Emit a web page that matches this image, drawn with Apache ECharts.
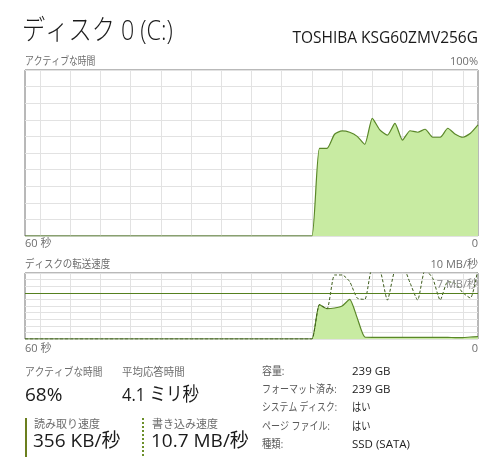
<!DOCTYPE html>
<html>
<head>
<meta charset="utf-8">
<script src="https://cdn.jsdelivr.net/npm/echarts@6/dist/echarts.min.js"></script>
<style>
html,body{margin:0;padding:0;background:#fff;}
#c{width:500px;height:475px;}
</style>
</head>
<body>
<div id="c"></div>
<script>
// ---- data ----
const seconds = [60,59,58,57,56,55,54,53,52,51,50,49,48,47,46,45,44,43,42,41,40,39,38,37,36,35,34,33,32,31,30,29,28,27,26,25,24,23,22,21,20,19,18,17,16,15,14,13,12,11,10,9,8,7,6,5,4,3,2,1,0];
const activeTime = [0,0,0,0,0,0,0,0,0,0, 0,0,0,0,0,0,0,0,0,0, 0,0,0,0,0,0,0,0,0,0, 0,0,0,0,0,0,0,0,0,
  52.8,52.8,61.3,63.3,62.5,60,55.2,70.9,63.9,60.8,67.9,57.8,63.4,62.5,64.3,59.5,59.5,64.9,61.3,59.5,61.9,66.9];
const readSpeed = [0,0,0,0,0,0,0,0,0,0, 0,0,0,0,0,0,0,0,0,0, 0,0,0,0,0,0,0,0,0,0, 0,0,0,0,0,0,0,0,0,
  5.2,4.6,4.7,5.0,6.0,3.2,0.3,0.25,0.25,0.25,0.25,0.25,0.25,0.25,0.25,0.25,0.25,0.25,0.2,0.2,0.3,0.35];
const writeSpeed = [0,0,0,0,0,0,0,0,0,0, 0,0,0,0,0,0,0,0,0,0, 0,0,0,0,0,0,0,0,0,0, 0,0,0,0,0,0,0,0,0,
  5.2,4.6,9.7,9.7,8.7,6.2,6.0,10.8,10.5,5.9,10.5,11,8.5,5.9,10.5,9.2,5.9,8.7,8.4,7.0,6.2,10.7];
const scaleLine = 7;
const activeMax = 100;
const transferMax = 10;

const titleText = 'ディスク 0 (C:)';
const modelText = 'TOSHIBA KSG60ZMV256G';
const chart1Label = 'アクティブな時間', chart1Max = '100%';
const chart2Label = 'ディスクの転送速度', chart2Max = '10 MB/秒';
const axisLeft = '60 秒', axisRight = '0';
const scaleLabel = '7 MB/秒';
const statLabels = ['アクティブな時間', '平均応答時間'];
const statValues = ['68%', '4.1 ミリ秒'];
const rwLabels = ['読み取り速度', '書き込み速度'];
const rwValues = ['356 KB/秒', '10.7 MB/秒'];
const infoLabels = ['容量:', 'フォーマット済み:', 'システム ディスク:', 'ページ ファイル:', '種類:'];
const infoValues = ['239 GB', '239 GB', 'はい', 'はい', 'SSD (SATA)'];

// ---- style ----
const FONT = "'Segoe UI','Open Sans','Noto Sans CJK JP',sans-serif";
const LINE = '#5a8728';
const FILL = '#c8eba2';
const GRID = '#e2e2e2';
const BORDER = '#737373';
const GREY = '#6e6e6e';

function txt(x, y, s, size, color, align, weight, sx) {
  return { type: 'text', x: x, y: y, scaleX: sx || 1, silent: true,
    style: { text: s, font: (weight || 'normal') + ' ' + size + 'px ' + FONT, fill: color,
      textAlign: align || 'left', align: align || 'left', textVerticalAlign: 'middle', verticalAlign: 'middle' } };
}

const graphics = [
  txt(22, 32, titleText, 28, '#1a1a1a', 'left', '300', 0.83),
  txt(478, 39, modelText, 15.5, '#1a1a1a', 'right'),
  txt(25, 62, chart1Label, 11, GREY, 'left', 'normal', 0.8),
  txt(478, 62, chart1Max, 11, GREY, 'right'),
  txt(25, 244, axisLeft, 11, GREY),
  txt(478, 244, axisRight, 11, GREY, 'right'),
  txt(25, 265, chart2Label, 11, GREY, 'left', 'normal', 0.86),
  txt(478, 265, chart2Max, 11, GREY, 'right'),
  txt(25, 349, axisLeft, 11, GREY),
  txt(478, 349, axisRight, 11, GREY, 'right'),
  txt(25, 373, statLabels[0], 11, GREY, 'left', 'normal', 0.88),
  txt(122, 373, statLabels[1], 11, GREY, 'left', 'normal', 0.95),
  txt(25, 396, statValues[0], 19, '#1a1a1a'),
  txt(122, 396, statValues[1], 19, '#1a1a1a', 'left', 'normal', 0.87),
  { type: 'line', silent: true, shape: { x1: 26, y1: 418, x2: 26, y2: 457 }, style: { stroke: '#6b7f1e', lineWidth: 2 } },
  { type: 'line', silent: true, shape: { x1: 143, y1: 418, x2: 143, y2: 457 }, style: { stroke: '#6b8f2a', lineWidth: 2, lineDash: [2, 2] } },
  txt(34, 425, rwLabels[0], 11, GREY),
  txt(152, 425, rwLabels[1], 11, GREY),
  txt(33, 442, rwValues[0], 19, '#1a1a1a'),
  txt(151, 442, rwValues[1], 19, '#1a1a1a')
];
const rowY = [372, 390, 408, 427, 445];
const infoLabelScale = [0.9, 0.82, 0.8, 0.82, 0.85];
const infoValueScale = [1, 1, 0.8, 0.8, 1];
infoLabels.forEach((l, i) => {
  graphics.push(txt(262, rowY[i], l, 11, '#5a5a5a', 'left', 'normal', infoLabelScale[i]));
  graphics.push(txt(352, rowY[i], infoValues[i], 11.5, '#222', 'left', 'normal', infoValueScale[i]));
});

const xAxisBase = (gi) => ({
  type: 'category', gridIndex: gi, data: seconds, boundaryGap: false,
  axisLabel: { show: false }, axisTick: { show: false }, axisLine: { show: false },
  splitLine: { show: true, interval: (idx) => idx % 4 === 2, lineStyle: { color: GRID, width: 1 } }
});

const option = {
  animation: false,
  backgroundColor: '#fff',
  grid: [
    { left: 25, top: 70, width: 453, height: 166, show: true, borderColor: BORDER, borderWidth: 1, backgroundColor: 'transparent' },
    { left: 25, top: 273, width: 453, height: 66, show: true, borderColor: BORDER, borderWidth: 1, backgroundColor: 'transparent' }
  ],
  xAxis: [xAxisBase(0), xAxisBase(1)],
  yAxis: [
    { type: 'value', gridIndex: 0, min: 0, max: activeMax, interval: 10,
      axisLabel: { show: false }, axisTick: { show: false }, axisLine: { show: false },
      splitLine: { show: true, lineStyle: { color: GRID, width: 1 } } },
    { type: 'value', gridIndex: 1, min: 0, max: transferMax, interval: 1,
      axisLabel: { show: false }, axisTick: { show: false }, axisLine: { show: false },
      splitLine: { show: true, lineStyle: { color: GRID, width: 1 } } }
  ],
  series: [
    { type: 'line', xAxisIndex: 0, yAxisIndex: 0, data: activeTime, symbol: 'none', smooth: 0.2,
      lineStyle: { color: LINE, width: 1.2 }, areaStyle: { color: FILL, opacity: 1 }, clip: true },
    { type: 'line', xAxisIndex: 1, yAxisIndex: 1, data: readSpeed, symbol: 'none', smooth: 0.2,
      lineStyle: { color: LINE, width: 1.2 }, areaStyle: { color: FILL, opacity: 1 }, clip: true,
      markLine: { silent: true, symbol: 'none', animation: false,
        lineStyle: { color: '#55801f', width: 1.2, type: 'solid' },
        label: { show: true, position: 'insideEndTop', formatter: scaleLabel, color: '#8a8a8a',
          fontSize: 11, fontFamily: FONT, distance: [0, 2] },
        data: [{ yAxis: scaleLine }] } },
    { type: 'line', xAxisIndex: 1, yAxisIndex: 1, data: writeSpeed, symbol: 'none', smooth: 0.2,
      lineStyle: { color: '#3d5c1c', width: 1, type: [3, 2] }, clip: true, z: 3 }
  ],
  graphic: graphics
};

const chart = echarts.init(document.getElementById('c'), null, { renderer: 'canvas' });
chart.setOption(option);
</script>
</body>
</html>
